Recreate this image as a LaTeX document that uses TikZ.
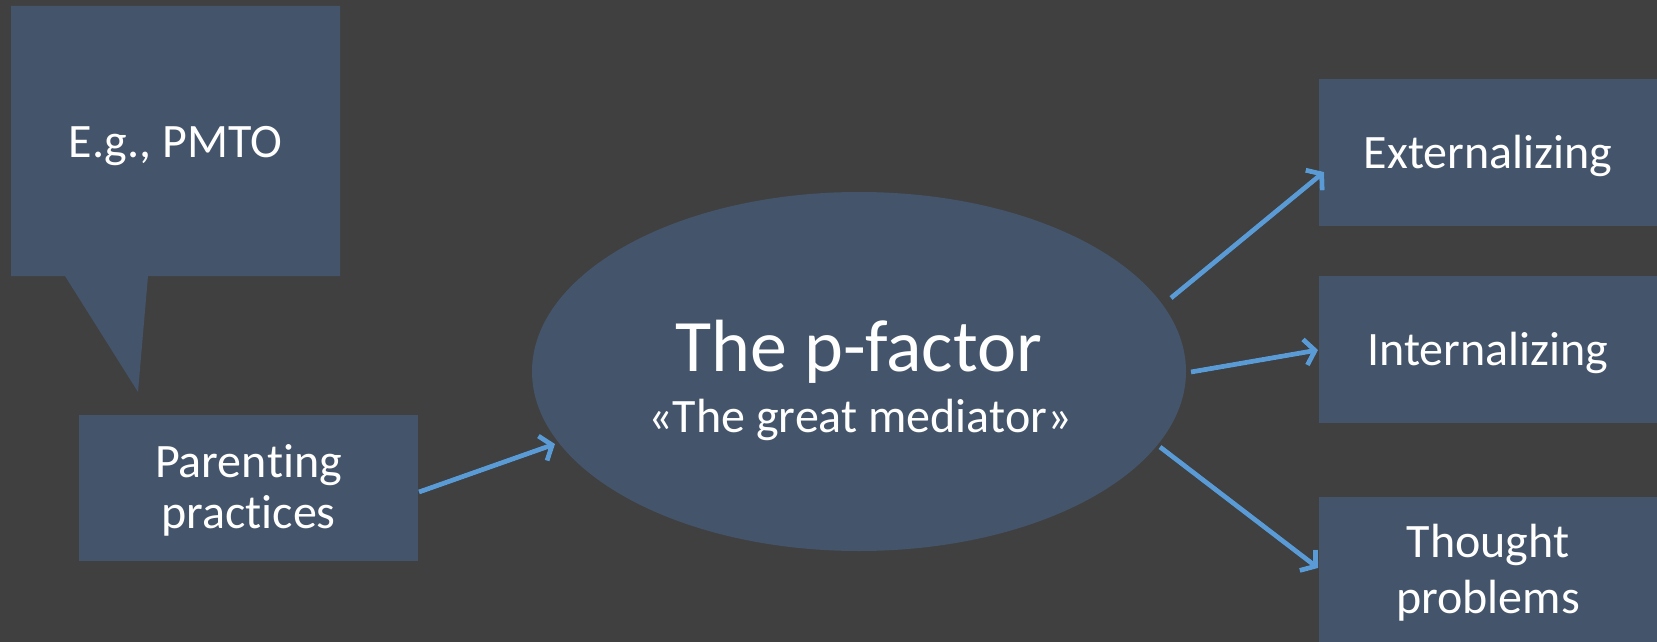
\documentclass[tikz,border=0pt]{standalone}
\usepackage{fontspec}
\setmainfont{Carlito}[RawFeature={-liga;-clig;-calt;-dlig}]
\usetikzlibrary{arrows.meta,shapes.geometric}
\definecolor{bgc}{HTML}{404040}
\definecolor{boxc}{HTML}{44546A}
\definecolor{arrc}{HTML}{5B9BD5}
\begin{document}
\begin{tikzpicture}[x=1pt,y=-1pt,
  box/.style={fill=boxc, draw=none, inner sep=0pt, rectangle, anchor=north west},
  txt/.style={text=white, inner sep=0pt, anchor=base, font=\fontsize{48}{50}\selectfont},
  arr/.style={draw=arrc, line width=4.8pt,
    -{Straight Barb[length=10pt,width=26pt,line width=4.8pt]}},
  arrshadow/.style={draw=black, opacity=0.3, line width=5pt, shift={(1.5,2.5)},
    -{Straight Barb[length=10pt,width=26pt,line width=5pt]}}]
\fill[bgc] (0,0) rectangle (1657,642);
\useasboundingbox (0,0) rectangle (1657,642);
% callout
\fill[boxc] (11,6) -- (340,6) -- (340,276) -- (148,276) -- (138,392) -- (65,276) -- (11,276) -- cycle;
\node[txt] (eg) at (175.5,157) {E.g., PMTO};
% parenting box
\node[box, minimum width=339, minimum height=146] (par) at (79,415) {};
\node[txt] (par1) at (248.5,477) {Paren\kern0ptting};
\node[txt] (par2) at (248.5,528) {prac\kern0pttices};
% ellipse
\node[ellipse, fill=boxc, draw=none, inner sep=0pt, minimum width=654, minimum height=359] (pf) at (859,371.5) {};
\node[txt, font=\fontsize{74}{80}\selectfont] (pft) at (859,371) {The p-factor};
\node[txt, font=\fontsize{48}{50}\selectfont] (pfs) at (860,432) {«The great mediator»};
% right boxes
\node[box, minimum width=338, minimum height=147] (ext) at (1319,79) {};
\node[txt] (extt) at (1488,168) {Externalizing};
\node[box, minimum width=338, minimum height=147] (int) at (1319,276) {};
\node[txt] (intt) at (1488,365) {Internalizing};
\node[box, minimum width=338, minimum height=150] (tho) at (1319,497) {};
\node[txt] (tho1) at (1488,557) {Thought};
\node[txt] (tho2) at (1488,613) {problems};
% arrow end points
\coordinate (parS) at (419,492);
\coordinate (parE) at (555,444);
\coordinate (extS) at (1171,298);
\coordinate (extE) at (1324,172);
\coordinate (intS) at (1191,372);
\coordinate (intE) at (1318,350);
\coordinate (thoS) at (1160,447);
\coordinate (thoE) at (1318,568);
\foreach \s/\e in {parS/parE, extS/extE, intS/intE, thoS/thoE}{
  \draw[arrshadow] (\s) -- (\e);
  \draw[arr] (\s) -- (\e);
}
\end{tikzpicture}
\end{document}
